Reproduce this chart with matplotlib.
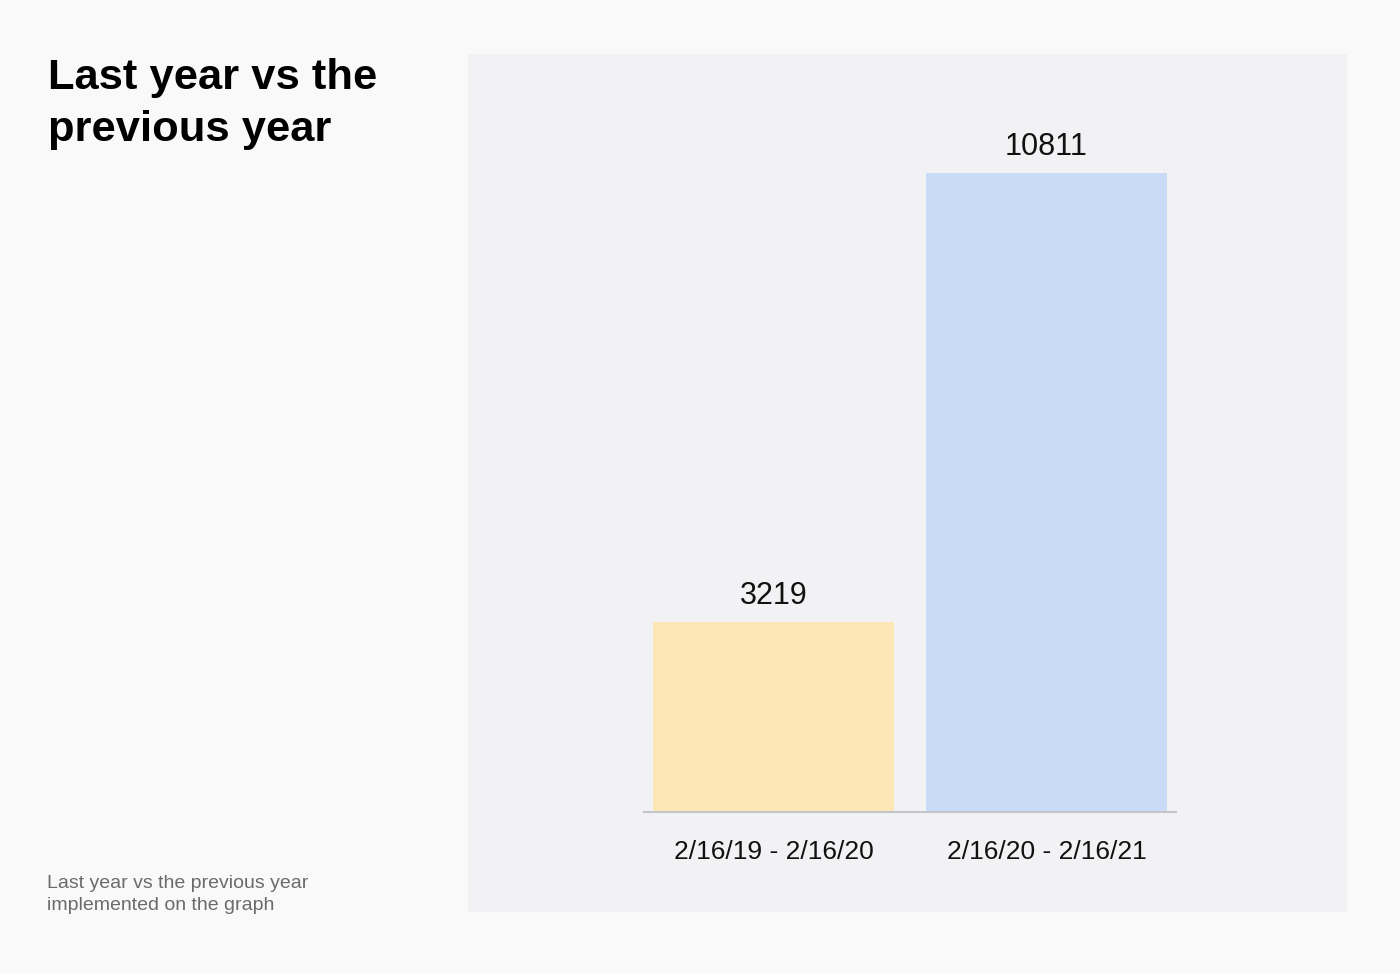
import matplotlib
matplotlib.use("Agg")
import matplotlib.pyplot as plt
from matplotlib.patches import Rectangle

categories = ["2/16/19 - 2/16/20", "2/16/20 - 2/16/21"]
values = [3219, 10811]
bar_colors = ["#fde7b7", "#c9dbf6"]
title = "Last year vs the\nprevious year"
note = "Last year vs the previous year\nimplemented on the graph"

W, H = 1400, 973
plt.rcParams['font.family'] = ['Liberation Sans', 'DejaVu Sans']
fig = plt.figure(figsize=(W / 100, H / 100), dpi=100, facecolor="#f9f9f9")

# grey panel
fig.patches.append(Rectangle((468 / W, 1 - 912 / H), (1347 - 468) / W, (912 - 54) / H,
                             transform=fig.transFigure, facecolor="#f2f2f4",
                             edgecolor="none", zorder=-5))

ax = fig.add_axes([644 / W, 1 - 812 / H, (1176 - 644) / W, (812 - 54) / H])
ax.set_zorder(5)
ax.patch.set_visible(False)
x = list(range(len(categories)))
bars = ax.bar(x, values, width=0.883, color=bar_colors, zorder=2)
ax.set_xlim(-0.474, 1.474)
ax.set_ylim(0, 12824)
for sp in ["top", "right", "left"]:
    ax.spines[sp].set_visible(False)
ax.spines["bottom"].set_color("#c4c4cc")
ax.spines["bottom"].set_linewidth(1.5)
ax.spines["bottom"].set_zorder(3)
ax.set_yticks([])
ax.set_xticks(x)
ax.set_xticklabels(categories, fontsize=19, color="#111111")
ax.tick_params(axis="x", length=0, pad=20)

for xi, v in zip(x, values):
    ax.annotate(str(v), (xi, v), xytext=(0, 8), textcoords="offset points",
                ha="center", va="bottom", fontsize=22, color="#111111")

fig.text(48 / W, 1 - 58 / H, title, fontsize=31.3, fontweight="bold",
         va="top", ha="left", color="#000000", linespacing=1.4)
fig.text(47 / W, 1 - 875 / H, note, fontsize=14, va="top", ha="left",
         color="#6b6b6b", linespacing=1.4)

fig.savefig("out.png", dpi=100, facecolor=fig.get_facecolor())
